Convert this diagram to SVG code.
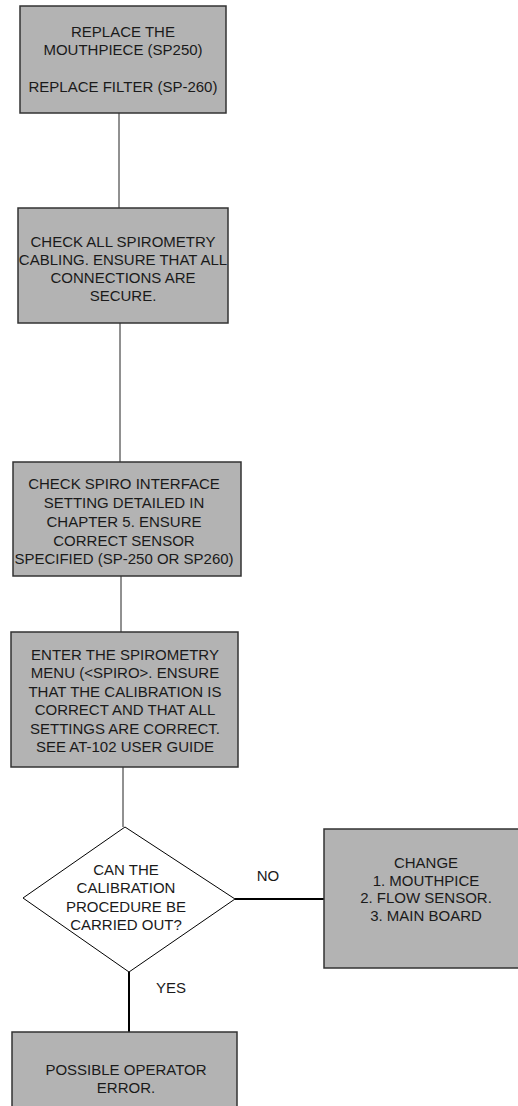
<svg xmlns="http://www.w3.org/2000/svg" width="518" height="1106" viewBox="0 0 518 1106">
<style>
.box{fill:#b3b3b3;stroke:#333;stroke-width:1.5}
.dia{fill:#fff;stroke:#000;stroke-width:1}
.t{font-family:"Liberation Sans",Arial,sans-serif;font-size:15px;fill:#1a1a1a;text-anchor:middle}
.c1{stroke:#222;stroke-width:1;fill:none}
.c2{stroke:#000;stroke-width:2;fill:none}
</style>
<rect width="518" height="1106" fill="#fff"/>
<g id="connectors">
<line class="c1" x1="119" y1="113" x2="119" y2="208"/>
<line class="c1" x1="120" y1="323" x2="120" y2="462"/>
<line class="c1" x1="121" y1="576" x2="121" y2="632"/>
<line class="c1" x1="123" y1="767" x2="123" y2="827"/>
<line class="c2" x1="235" y1="899" x2="324" y2="899"/>
<line class="c2" x1="129" y1="972" x2="129" y2="1032"/>
<text class="t" x="268" y="881">NO</text>
<text class="t" x="171" y="993">YES</text>
</g>
<g id="n1">
<rect class="box" x="20" y="6" width="206" height="107"/>
<text class="t" x="123" y="37">REPLACE THE</text>
<text class="t" x="123" y="55">MOUTHPIECE (SP250)</text>
<text class="t" x="123" y="92">REPLACE FILTER (SP-260)</text>
</g>
<g id="n2">
<rect class="box" x="18" y="208" width="210" height="115"/>
<text class="t" x="123" y="247">CHECK ALL SPIROMETRY</text>
<text class="t" x="123" y="265">CABLING. ENSURE THAT ALL</text>
<text class="t" x="123" y="283">CONNECTIONS ARE</text>
<text class="t" x="123" y="301">SECURE.</text>
</g>
<g id="n3">
<rect class="box" x="13" y="462" width="228" height="114"/>
<text class="t" x="124" y="489">CHECK SPIRO INTERFACE</text>
<text class="t" x="124" y="508">SETTING DETAILED IN</text>
<text class="t" x="124" y="527">CHAPTER 5. ENSURE</text>
<text class="t" x="124" y="546">CORRECT SENSOR</text>
<text class="t" x="124" y="564">SPECIFIED (SP-250 OR SP260)</text>
</g>
<g id="n4">
<rect class="box" x="11" y="632" width="227" height="135"/>
<text class="t" x="125" y="660">ENTER THE SPIROMETRY</text>
<text class="t" x="125" y="678">MENU (&lt;SPIRO&gt;. ENSURE</text>
<text class="t" x="125" y="697">THAT THE CALIBRATION IS</text>
<text class="t" x="125" y="715">CORRECT AND THAT ALL</text>
<text class="t" x="125" y="734">SETTINGS ARE CORRECT.</text>
<text class="t" x="125" y="752">SEE AT-102 USER GUIDE</text>
</g>
<g id="n5">
<polygon class="dia" points="125,827 235,899 129,972 23,898"/>
<text class="t" x="126" y="875">CAN THE</text>
<text class="t" x="126" y="893">CALIBRATION</text>
<text class="t" x="126" y="912">PROCEDURE BE</text>
<text class="t" x="126" y="930">CARRIED OUT?</text>
</g>
<g id="n6">
<rect class="box" x="324" y="829" width="196" height="139"/>
<text class="t" x="426" y="868">CHANGE</text>
<text class="t" x="426" y="886">1. MOUTHPICE</text>
<text class="t" x="426" y="903">2. FLOW SENSOR.</text>
<text class="t" x="426" y="921">3. MAIN BOARD</text>
</g>
<g id="n7">
<rect class="box" x="12" y="1032" width="225" height="80"/>
<text class="t" x="126" y="1075">POSSIBLE OPERATOR</text>
<text class="t" x="126" y="1093">ERROR.</text>
</g>
</svg>
